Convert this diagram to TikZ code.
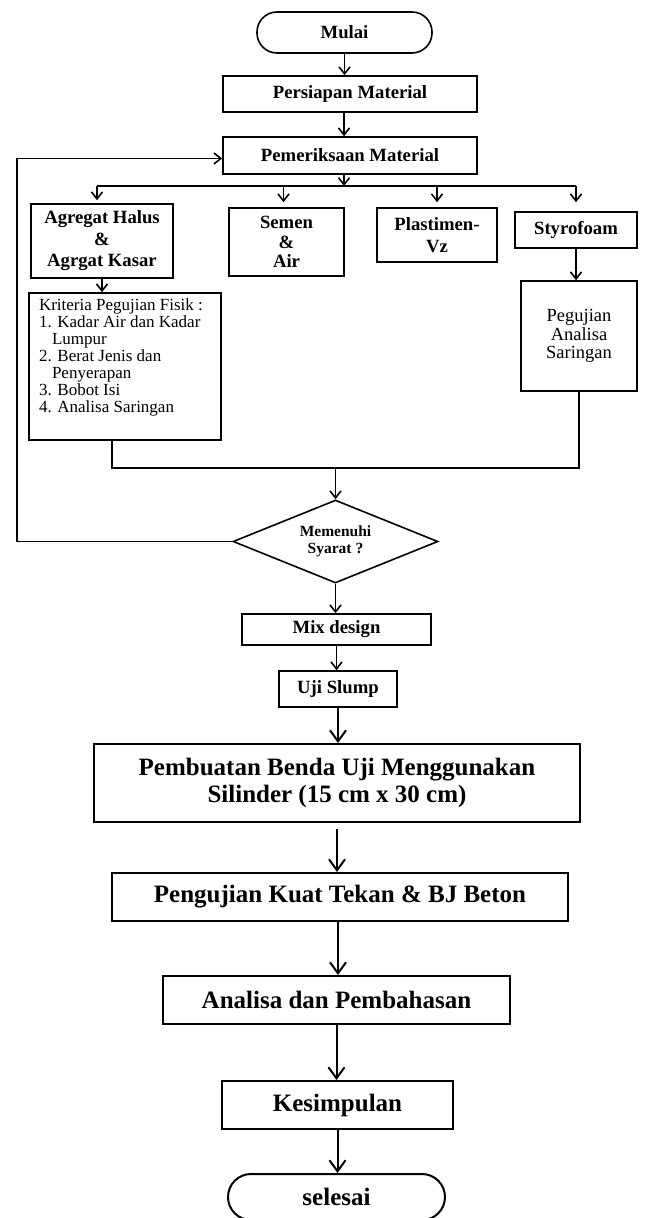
\documentclass[tikz,border=0pt]{standalone}
\usepackage{fontspec}
\setmainfont{Liberation Serif}
\usetikzlibrary{arrows.meta,shapes.geometric}
\tikzset{
  box/.style={draw, line width=1.6pt, inner sep=0pt, align=center,
    font=\bfseries\fontsize{18.7}{21.5}\selectfont},
  bigbox/.style={draw, line width=2pt, inner sep=0pt, align=center,
    font=\bfseries\fontsize{25}{27}\selectfont},
  arr/.style={-{Straight Barb[length=7pt,width=11pt]}, line width=1.6pt},
  bigarr/.style={-{Straight Barb[length=11pt,width=16pt]}, line width=2pt},
  ln/.style={line width=1.6pt}
}
\begin{document}
\begin{tikzpicture}[x=1pt,y=-1pt]
\useasboundingbox (0,0) rectangle (646,1218);

\node[box, rounded corners=20pt, minimum width=175pt, minimum height=41pt] (mulai) at (344.5,32.5) {Mulai};
\node[box, minimum width=254pt, minimum height=36pt] (persiapan) at (350,94) {Persiapan Material};
\node[box, minimum width=254pt, minimum height=37pt] (periksa) at (350,155.5) {Pemeriksaan Material};

\node[box, minimum width=142pt, minimum height=74pt] (agregat) at (102,241) {Agregat Halus\\\&\\Agrgat Kasar};
\node[box, font=\bfseries\fontsize{18.7}{19.5}\selectfont, minimum width=115pt, minimum height=68pt] (semen) at (286.5,242) {Semen\\\&\\Air};
\node[box, minimum width=120pt, minimum height=54pt] (plast) at (437,235) {Plastimen-\\Vz};
\node[box, minimum width=122pt, minimum height=36pt] (styro) at (576,230) {Styrofoam};

\node[box, font=\fontsize{18.5}{18.5}\selectfont, minimum width=116pt, minimum height=110pt] (uji) at (579,336) {Pegujian\\Analisa\\Saringan};
\node[box, font=\fontsize{17}{17}\selectfont, minimum width=192pt, minimum height=147pt, align=left] (kriteria) at (125,366.5)
 {\parbox[c][135pt][t]{172pt}{\raggedright Kriteria Pegujian Fisik :\\
 1. Kadar Air dan Kadar\\
 \hspace*{13pt}Lumpur\\
 2. Berat Jenis dan\\
 \hspace*{13pt}Penyerapan\\
 3. Bobot Isi\\
 4. Analisa Saringan}};

\node[draw, line width=1.6pt, diamond, inner sep=0pt, aspect=2.47, minimum width=205pt, minimum height=83pt,
  align=center, font=\bfseries\fontsize{15.5}{17}\selectfont] (dia) at (335.5,541.5) {Memenuhi\\Syarat ?};

\node[box, minimum width=189pt, minimum height=31pt] (mix) at (336.5,629.5) {Mix design};
\node[box, minimum width=118pt, minimum height=36pt] (slump) at (338,689) {Uji Slump};

\node[bigbox, minimum width=486pt, minimum height=78pt] (buat) at (337,783) {Pembuatan Benda Uji Menggunakan\\Silinder (15 cm x 30 cm)};
\node[bigbox, minimum width=456pt, minimum height=48pt] (tekan) at (340,897) {Pengujian Kuat Tekan \& BJ Beton};
\node[bigbox, minimum width=347pt, minimum height=48pt] (analisa) at (336.5,1000) {Analisa dan Pembahasan};
\node[bigbox, minimum width=231pt, minimum height=48pt] (kesim) at (337.5,1105) {Kesimpulan};
\node[bigbox, rounded corners=23pt, minimum width=217pt, minimum height=46pt] (selesai) at (336.5,1197) {selesai};

% top chain
\draw[arr] (mulai.south) -- (mulai.south |- persiapan.north);
\draw[arr] ([xshift=-6pt]persiapan.south) -- ([xshift=-6pt]persiapan.south |- periksa.north);

% bus
\coordinate (bus) at (0,186);
\draw[arr] ([xshift=-6pt]periksa.south) -- ([xshift=-6pt]periksa.south |- bus);
\draw[ln] ([xshift=-5pt]agregat.north |- bus) -- (styro.north |- bus);
\draw[arr, shorten >=3pt] ([xshift=-5pt]agregat.north |- bus) -- ([xshift=-5pt]agregat.north);
\draw[arr, shorten >=5pt] ([xshift=-3pt]semen.north |- bus) -- ([xshift=-3pt]semen.north);
\draw[arr, shorten >=5pt] (plast.north |- bus) -- (plast.north);
\draw[arr, shorten >=9pt] (styro.north |- bus) -- (styro.north);

% sub-arrows
\draw[arr] (agregat.south) -- (agregat.south |- kriteria.north);
\draw[arr] (styro.south) -- (styro.south |- uji.north);

% merge
\coordinate (m) at (335.5,468);
\draw[ln] ([xshift=-13pt]kriteria.south) |- (uji.south |- m) -- (uji.south);
\draw[arr] (m) -- (dia.north);

% loop back
\coordinate (lp) at (17,0);
\draw[arr] (dia.west) -- (dia.west -| lp) |- ([yshift=-3pt]periksa.west);

% lower chain
\draw[arr] (dia.south) -- (dia.south |- mix.north);
\draw[arr] (mix.south) -- (mix.south |- slump.north);
\draw[bigarr] (slump.south) -- (slump.south |- buat.north);
\draw[bigarr, shorten <=6pt] (buat.south) -- (buat.south |- tekan.north);
\draw[bigarr] ([xshift=-2pt]tekan.south) -- ([xshift=-2pt]tekan.south |- analisa.north);
\draw[bigarr] (analisa.south) -- (analisa.south |- kesim.north);
\draw[bigarr] (kesim.south) -- (kesim.south |- selesai.north);
\end{tikzpicture}
\end{document}
